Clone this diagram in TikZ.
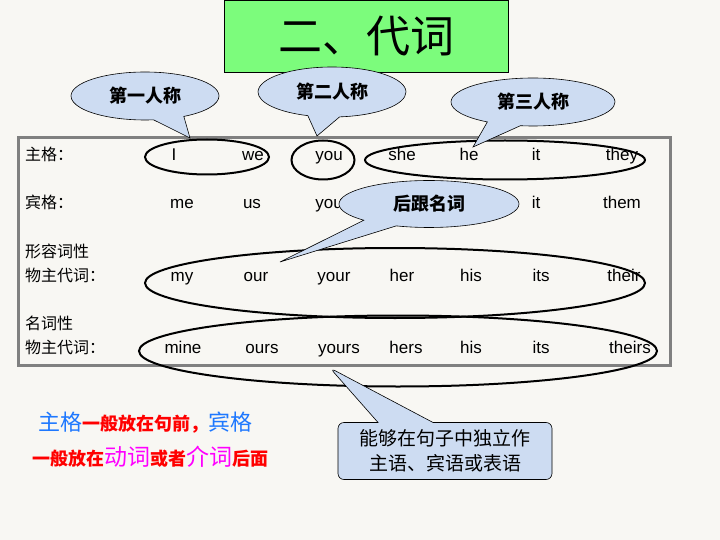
\documentclass[tikz,border=0pt]{standalone}
\usepackage{fontspec}
\setmainfont{Liberation Sans}
\newfontfamily\cjk{Noto Sans CJK SC}
\usetikzlibrary{shapes.geometric,shapes.callouts}
\definecolor{paper}{HTML}{F8F7F3}
\definecolor{titlegreen}{HTML}{7CFC7C}
\definecolor{bubblefill}{HTML}{CDDCF2}
\definecolor{framegray}{HTML}{808080}
\definecolor{caseblue}{HTML}{1E78FF}
\definecolor{notered}{HTML}{FF0000}
\definecolor{notepink}{HTML}{FF00FF}
\tikzset{
  word/.style={anchor=base, inner sep=0pt, font=\fontsize{17}{20}\selectfont},
  rowlabel/.style={anchor=base west, inner sep=0pt, font=\cjk\fontsize{16}{19}\selectfont},
  ring/.style={draw, ellipse, line width=2pt, inner sep=0pt},
  bubble/.style={ellipse callout, draw, fill=bubblefill, line width=0.6pt,
    callout pointer arc=25, font=\cjk\bfseries\fontsize{18}{20}\selectfont}
}
\begin{document}
\begin{tikzpicture}[x=1pt,y=-1pt]
  \useasboundingbox (0,0) rectangle (720,540);
  \fill[paper] (0,0) rectangle (720,540);
  % title
  \node[draw, fill=titlegreen, line width=0.8pt, anchor=north west,
    minimum width=284, minimum height=72,
    font=\cjk\fontsize{44}{46}\selectfont] (title) at (224,0) {二、代词};
  % table
  \draw[framegray, line width=3pt] (18,138) rectangle (670,365);
  \node[rowlabel] (labNom) at (25,161) {主格：};
  \node[rowlabel] (labObj) at (25,209) {宾格：};
  \node[rowlabel] (labAdjA) at (25,258) {形容词性};
  \node[rowlabel] (labAdjB) at (25,281) {物主代词：};
  \node[rowlabel] (labNounA) at (25,329) {名词性};
  \node[rowlabel] (labNounB) at (25,353) {物主代词：};
  % subject forms
  \node[word] (nomI) at (174,161) {I};
  \node[word] (nomWe) at (253,161) {we};
  \node[word] (nomYou) at (329,161) {you};
  \node[word] (nomShe) at (402,161) {she};
  \node[word] (nomHe) at (469,161) {he};
  \node[word] (nomIt) at (536,161) {it};
  \node[word] (nomThey) at (622,161) {they};
  % object forms
  \node[word] (objMe) at (182,209) {me};
  \node[word] (objUs) at (252,209) {us};
  \node[word] (objYou) at (329,209) {you};
  \node[word] (objIt) at (536,209) {it};
  \node[word] (objThem) at (622,209) {them};
  % adjective possessives
  \node[word] (adjMy) at (182,281) {my};
  \node[word] (adjOur) at (256,281) {our};
  \node[word] (adjYour) at (334,281) {your};
  \node[word] (adjHer) at (402,281) {her};
  \node[word] (adjHis) at (471,281) {his};
  \node[word] (adjIts) at (541,281) {its};
  \node[word] (adjTheir) at (624,281) {their};
  % noun possessives
  \node[word] (nounMine) at (183,353) {mine};
  \node[word] (nounOurs) at (262,353) {ours};
  \node[word] (nounYours) at (339,353) {yours};
  \node[word] (nounHers) at (406,353) {hers};
  \node[word] (nounHis) at (471,353) {his};
  \node[word] (nounIts) at (541,353) {its};
  \node[word] (nounTheirs) at (630,353) {theirs};
  % rings
  \node[ring, minimum width=124, minimum height=35] (ringFirst) at (207,157) {};
  \node[ring, minimum width=63, minimum height=39] (ringSecond) at (323,160) {};
  \node[ring, minimum width=280, minimum height=39] (ringThird) at (505,160) {};
  \node[ring, minimum width=500, minimum height=70] (ringAdj) at (395,283) {};
  \node[ring, minimum width=518, minimum height=71] (ringNoun) at (398,351) {};
  % callouts
  \coordinate (tipFirst) at (190,138);
  \coordinate (tipSecond) at (317,136);
  \coordinate (tipThird) at (473,147);
  \coordinate (tipAdj) at (280,262);
  \coordinate (tipNoun) at (330,368);
  \node[bubble, minimum width=148, minimum height=48,
    callout absolute pointer={(tipFirst)}] (callFirst) at (145,96) {第一人称};
  \node[bubble, minimum width=148, minimum height=50,
    callout absolute pointer={(tipSecond)}] (callSecond) at (332,92) {第二人称};
  \node[bubble, minimum width=164, minimum height=48,
    callout absolute pointer={(tipThird)}] (callThird) at (533,102) {第三人称};
  \node[bubble, minimum width=180, minimum height=47,
    callout absolute pointer={(tipAdj)}] (callAdj) at (429,204) {后跟名词};
  \node[rectangle callout, draw, fill=bubblefill, line width=0.6pt, rounded corners=6pt,
    minimum width=214, minimum height=57, callout pointer width=55,
    callout absolute pointer={(tipNoun)}, align=center,
    font=\cjk\fontsize{19}{25}\selectfont] (callNoun) at (445,451)
    {能够在句子中独立作\\主语、宾语或表语};
  % notes
  \node[anchor=base west, inner sep=0pt, font=\cjk] (noteA) at (38,430)
    {{\color{caseblue}\fontsize{22}{24}\selectfont 主格}{\color{notered}\bfseries\fontsize{18}{20}\selectfont 一般放在句前，}{\color{caseblue}\fontsize{22}{24}\selectfont 宾格}};
  \node[anchor=base west, inner sep=0pt, font=\cjk] (noteB) at (32,465)
    {{\color{notered}\bfseries\fontsize{18}{20}\selectfont 一般放在}{\color{notepink}\fontsize{23}{24}\selectfont 动词}{\color{notered}\bfseries\fontsize{18}{20}\selectfont 或者}{\color{notepink}\fontsize{23}{24}\selectfont 介词}{\color{notered}\bfseries\fontsize{18}{20}\selectfont 后面}};
\end{tikzpicture}
\end{document}
